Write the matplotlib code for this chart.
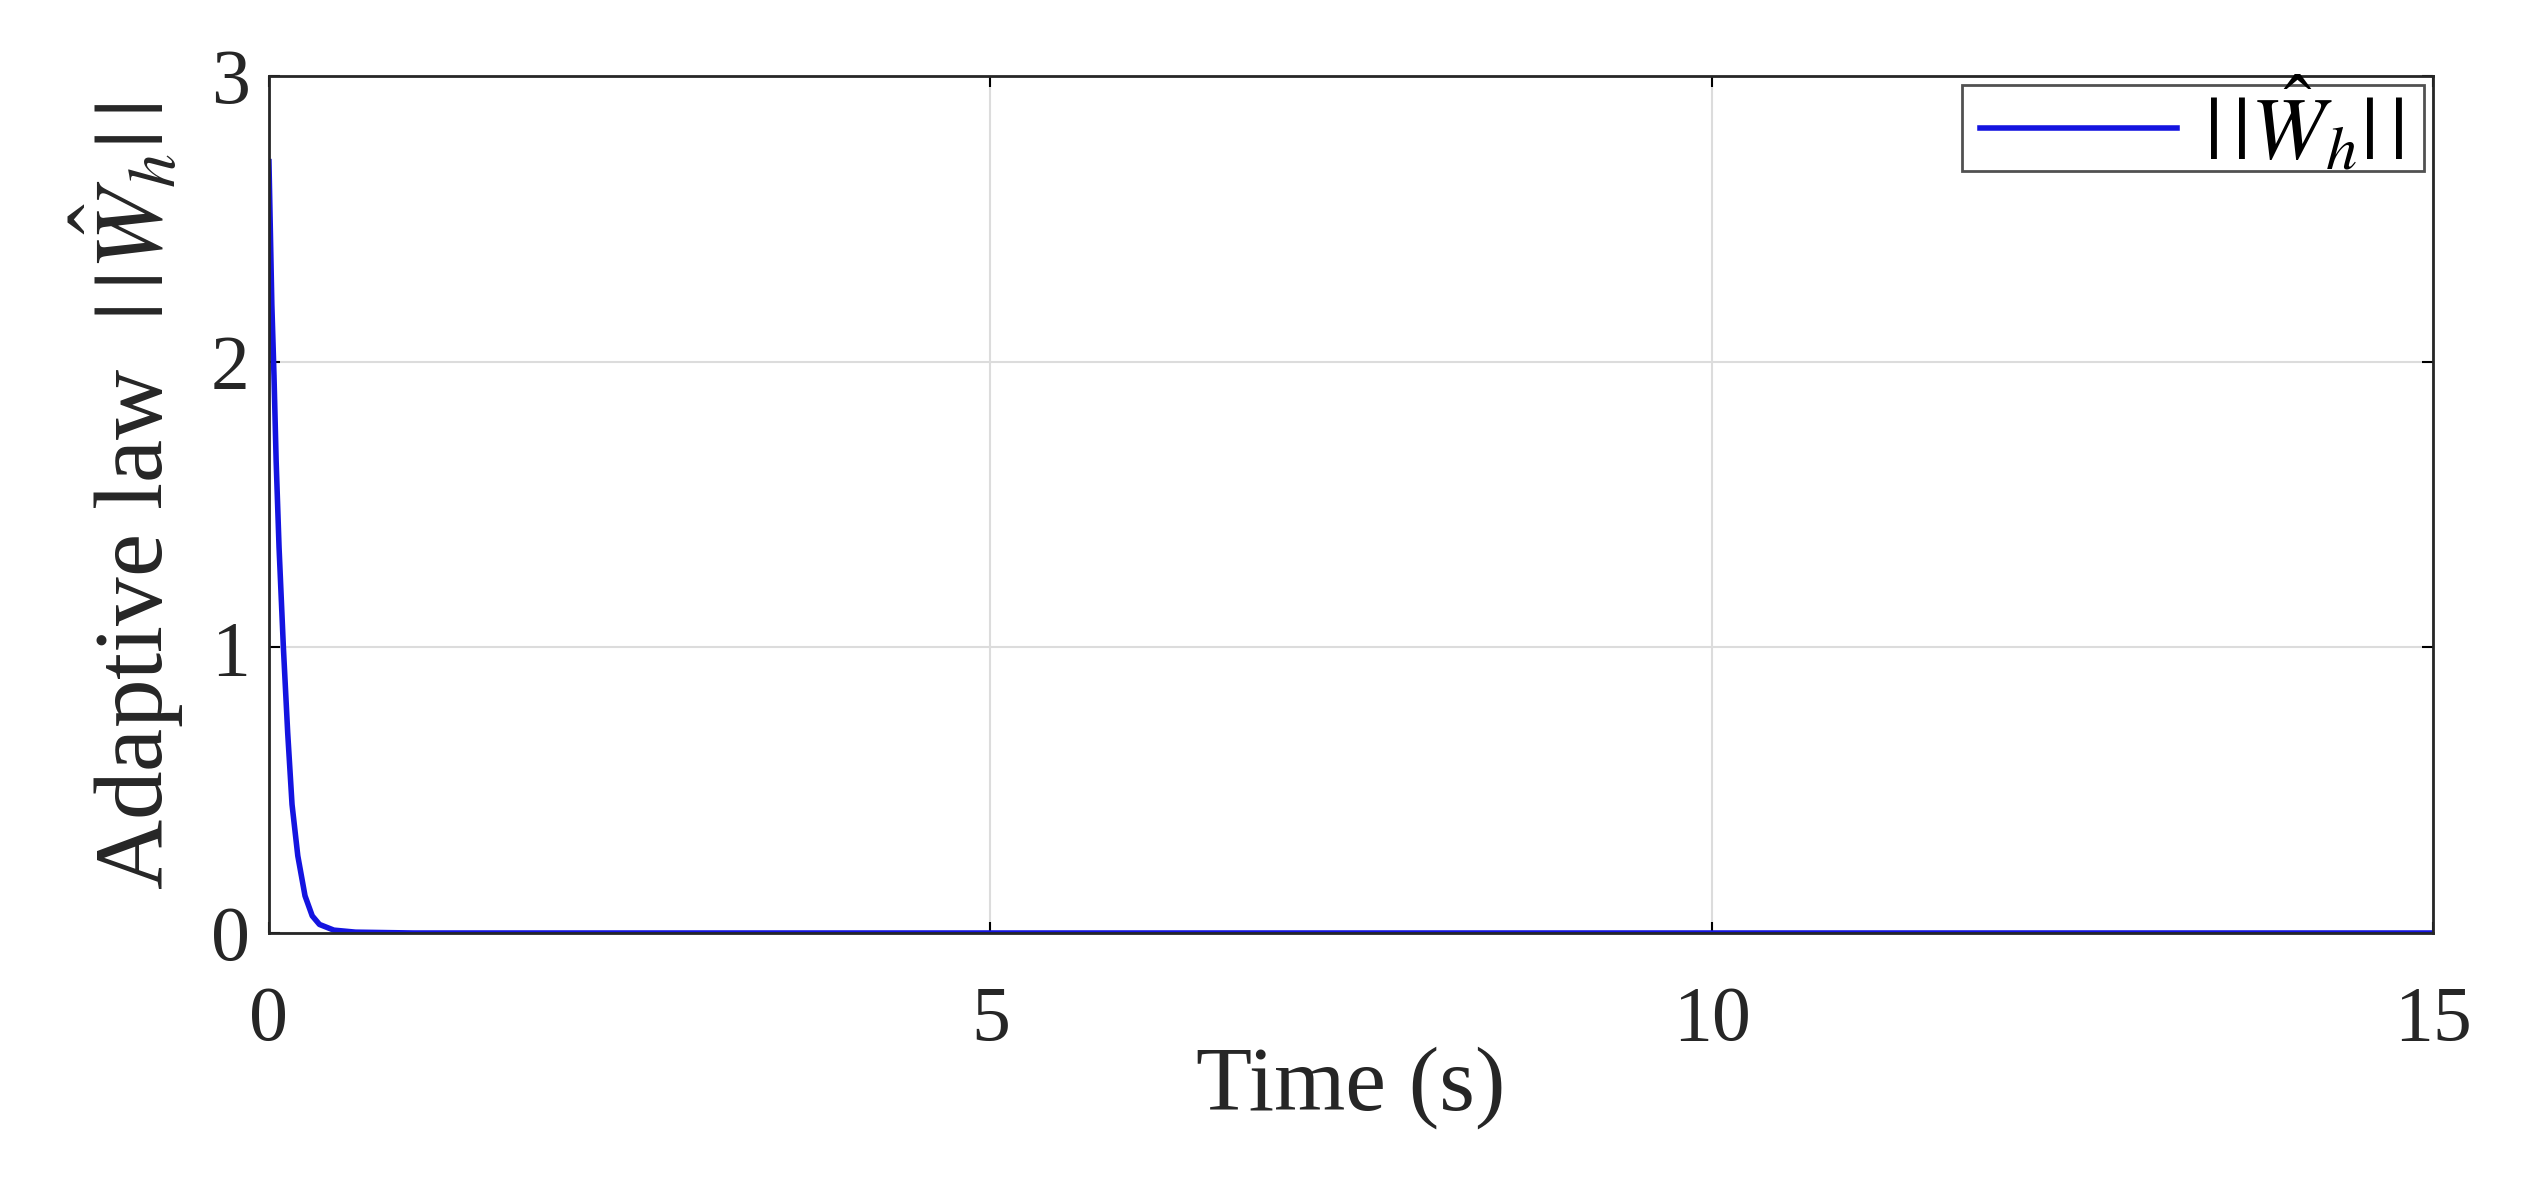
import matplotlib
matplotlib.use("Agg")
import matplotlib.pyplot as plt
from matplotlib.legend_handler import HandlerLine2D

# data
time_s = [0, 0.01, 0.02, 0.035, 0.05, 0.07, 0.1, 0.13, 0.16, 0.2, 0.25, 0.3, 0.35, 0.45, 0.6, 1.0, 5.0, 10.0, 15.0]
w_norm = [2.7, 2.45, 2.2, 1.95, 1.65, 1.35, 1.0, 0.7, 0.45, 0.27, 0.13, 0.06, 0.03, 0.01, 0.003, 0.0, 0.0, 0.0, 0.0]
xticks = [0, 5, 10, 15]
yticks = [0, 1, 2, 3]

plt.rcParams['font.family'] = ['Liberation Serif', 'DejaVu Serif']
plt.rcParams['mathtext.fontset'] = 'stix'

fig = plt.figure(figsize=(25.23, 11.96), dpi=100)
ax = fig.add_axes([0.1066, 0.2199, 0.8577, 0.7166])
line, = ax.plot(time_s, w_norm, color='#1414e0', lw=4.0,
                label=r'$|\,|\hat{W}_h|\,|$' + '  ')
ax.set_xlim(0, 15)
ax.set_ylim(0, 3)
ax.set_xticks(xticks)
ax.set_yticks(yticks)
ax.grid(True, color='#dcdcdc', lw=1.5)
ax.tick_params(direction='in', length=8, width=1.5, labelsize=56, top=True, right=True,
               labelcolor='#262626')
ax.tick_params(axis='x', pad=38)
ax.tick_params(axis='y', pad=14)
for s in ax.spines.values():
    s.set_linewidth(2.0)
    s.set_color('#262626')
ax.set_xlabel('Time (s)', fontsize=66, color='#262626', labelpad=-8)
ax.set_ylabel(r'Adaptive law  $|\,|\hat{W}_h|\,|$', fontsize=70, color='#262626', labelpad=18)
ax.yaxis.label.set_y(0.51)
leg = ax.legend(loc='upper right', fontsize=64, frameon=True, fancybox=False,
                edgecolor='#262626', handlelength=2.5, borderpad=-0.08,
                borderaxespad=0.1, handletextpad=0.3,
                handler_map={line: HandlerLine2D(xpad=0.28)})
leg.get_frame().set_linewidth(2.0)
fig.savefig('out.png', dpi=100)
